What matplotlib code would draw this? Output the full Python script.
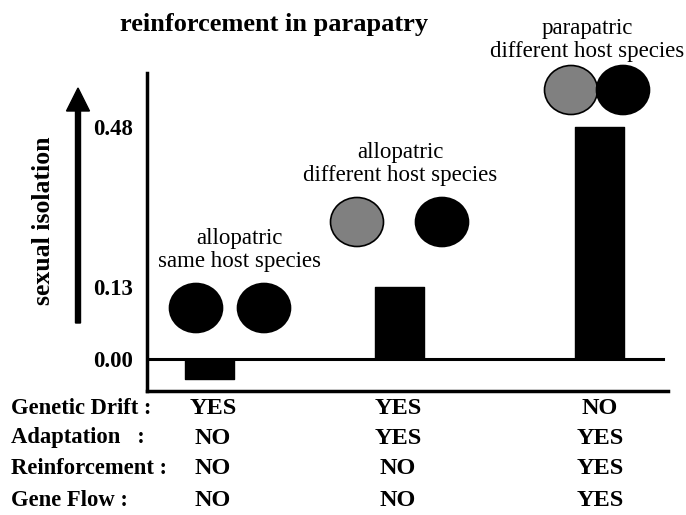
import matplotlib
matplotlib.use("Agg")
import matplotlib.pyplot as plt
import numpy as np
from matplotlib.patches import Ellipse

# data
groups = ["allopatric\nsame host species",
          "allopatric\ndifferent host species",
          "parapatric\ndifferent host species"]
isolation = [-0.036, 0.13, 0.48]
ytick_vals = [0.0, 0.13, 0.48]
ytick_labels = ["0.00", "0.13", "0.48"]
# host colours for each pair of circles
host_colors = [["black", "black"], ["#808080", "black"], ["#808080", "black"]]

row_labels = ["Genetic Drift :", "Adaptation   :", "Reinforcement :", "Gene Flow :"]
table_values = [["YES", "YES", "NO"],
                ["NO", "YES", "YES"],
                ["NO", "NO", "YES"],
                ["NO", "NO", "YES"]]

plt.rcParams['font.family'] = ['Liberation Serif', 'DejaVu Serif']

W, H = 686, 515
fig = plt.figure(figsize=(W / 100, H / 100), dpi=100)

# main axis: pixel box 147..668 x 73..391
ax = fig.add_axes([147 / W, 1 - 391 / H, (668 - 147) / W, (391 - 73) / H])


# the original axis is not to scale: piecewise linear through the tick labels
def fwd(v):
    v = np.asarray(v, dtype=float)
    return np.where(v <= 0.13, v / 0.13 * 72, 72 + (v - 0.13) / 0.35 * 160)


def inv(p):
    p = np.asarray(p, dtype=float)
    return np.where(p <= 72, p / 72 * 0.13, 0.13 + (p - 72) / 160 * 0.35)


ax.set_yscale('function', functions=(fwd, inv))
ax.set_ylim(float(inv(-32)), float(inv(286)))

bar_x = [0, 1, 2.05]
ax.bar(bar_x, isolation, width=0.258, color="black", edgecolor="black",
       lw=1, joinstyle="round")
ax.set_xlim(-0.329, 2.413)
ax.axhline(0, xmin=0, xmax=(663 - 147) / (668 - 147), color="black", lw=2.2)

ax.set_xticks([])
ax.set_yticks(ytick_vals)
ax.set_yticklabels(ytick_labels, fontsize=16.5, fontweight="bold")
ax.tick_params(axis="y", length=0, pad=10)
ax.yaxis.set_minor_locator(matplotlib.ticker.NullLocator())
for s in ["top", "right"]:
    ax.spines[s].set_visible(False)
for s in ["left", "bottom"]:
    ax.spines[s].set_linewidth(2.5)
ax.patch.set_alpha(0)

# overlay in pixel coordinates for the drawing parts
deco = fig.add_axes([0, 0, 1, 1])
deco.set_xlim(0, W)
deco.set_ylim(H, 0)
deco.axis("off")
deco.patch.set_alpha(0)

deco.text(274, 25, "reinforcement in parapatry", ha="center", va="center",
          fontsize=19, fontweight="bold")
deco.text(44, 221, "sexual isolation", ha="center", va="center", rotation=90,
          fontsize=18.5, fontweight="bold")
deco.arrow(78, 323, 0, -235, width=5, head_width=23, head_length=23,
           length_includes_head=True, color="black")

# circles for each group
circle_pos = [[(196, 308), (264, 308)],
              [(357, 222), (442, 222)],
              [(571, 90), (623, 90)]]
for pos, cols in zip(circle_pos, host_colors):
    for (cx, cy), c in zip(pos, cols):
        deco.add_patch(Ellipse((cx, cy), 53, 49, facecolor=c,
                               edgecolor="black", lw=1.2))

label_pos = [(239, 250), (400, 164), (587, 40)]
for (lx, ly), g in zip(label_pos, groups):
    deco.text(lx, ly, g, ha="center", va="center", fontsize=16.5,
              linespacing=1.18)

row_y = [408, 438, 469, 501]
col_x = [213, 398, 600]
for ry, lab, vals in zip(row_y, row_labels, table_values):
    deco.text(11, ry, lab, ha="left", va="center", fontsize=16.3,
              fontweight="bold")
    for cx, v in zip(col_x, vals):
        deco.text(cx, ry, v, ha="center", va="center", fontsize=17.5,
                  fontweight="bold")

fig.savefig("out.png", dpi=100)
